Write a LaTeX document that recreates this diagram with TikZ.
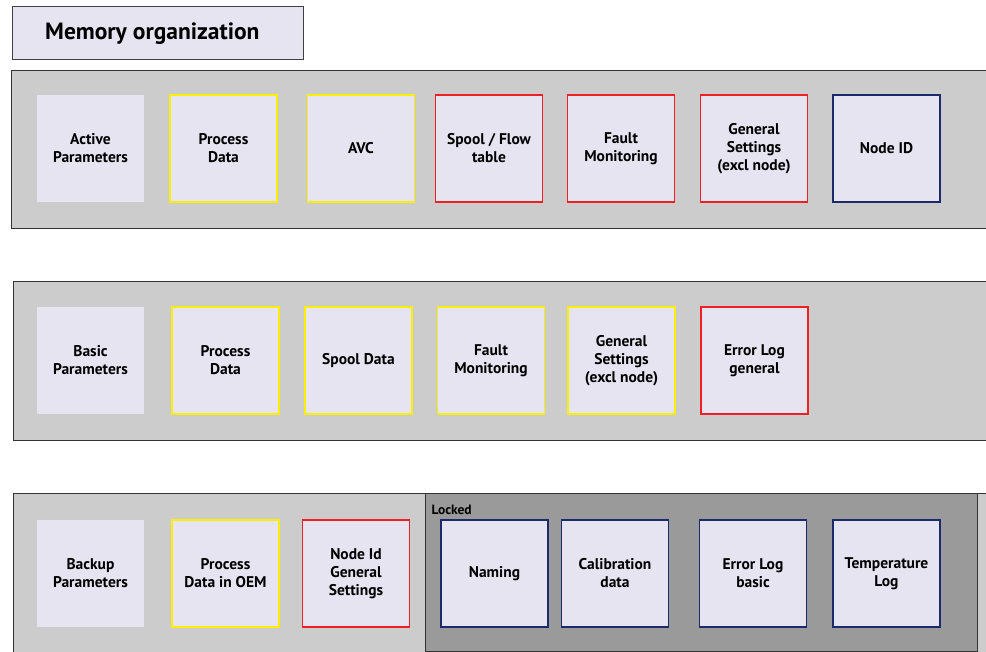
\documentclass[tikz,border=0pt]{standalone}
\usepackage{fontspec}
\setmainfont{PT Sans}
\usepackage{xcolor}
\usepackage{tikz}

\definecolor{boxfill}{HTML}{E6E4F0}
\definecolor{bandfill}{HTML}{CCCCCC}
\definecolor{lockfill}{HTML}{9A9A9A}
\definecolor{yellowline}{HTML}{FFEE00}
\definecolor{redline}{HTML}{EE2024}
\definecolor{navyline}{HTML}{1B2A6B}

\begin{document}
\begin{tikzpicture}[x=1pt,y=-1pt,
		memblock/.style={fill=boxfill, minimum width=107pt, minimum height=107pt,
			inner sep=0pt, align=center, font=\bfseries\fontsize{15.5}{18}\selectfont},
		yellowblock/.style={memblock, draw=yellowline, line width=1.9pt},
		redblock/.style={memblock, draw=redline, line width=1.9pt},
		navyblock/.style={memblock, draw=navyline, line width=1.9pt}]
					\useasboundingbox (0,0) rectangle (986,652);
					
					% title
					\draw[fill=boxfill, draw=black!75] (12,6) rectangle (303,59);
					\node[anchor=base west, inner sep=0pt, font=\bfseries\fontsize{23.5}{26}\selectfont] (title) at (45,40) {Memory organization};
					
					% bands
					\fill[bandfill] (11,70) rectangle (986,228);
					\draw[black!80] (986,70) -- (11,70) -- (11,228) -- (986,228);
					\fill[bandfill] (13,281) rectangle (986,440);
					\draw[black!80] (986,281) -- (13,281) -- (13,440) -- (986,440);
					\fill[bandfill] (13,493) rectangle (986,652);
					\draw[black!80] (986,493) -- (13,493) -- (13,652);
					\draw[black!80, fill=lockfill] (425,493) rectangle (977,651);
					\node[anchor=west, font=\bfseries\fontsize{13.5}{15}\selectfont] (locked) at (428,510) {Locked};
					
					% active parameters
					\node[memblock] (activepar) at (90.5,148.5) {Active\\Parameters};
					\node[yellowblock] (activeproc) at (223.5,148.5) {Process\\Data};
					\node[yellowblock] (activeavc) at (361,148.5) {AVC};
					\node[redblock] (activespool) at (489,148.5) {Spool / Flow\\table};
					\node[redblock] (activefault) at (621,148.5) {Fault\\Monitoring};
					\node[redblock] (activegen) at (754,148.5) {General\\Settings\\(excl node)};
					\node[navyblock] (activenode) at (886.5,148.5) {Node ID};
					
					% basic parameters
					\node[memblock] (basicpar) at (90.5,360.5) {Basic\\Parameters};
					\node[yellowblock] (basicproc) at (225.5,360.5) {Process\\Data};
					\node[yellowblock] (basicspool) at (358.5,360.5) {Spool Data};
					\node[yellowblock] (basicfault) at (491,360.5) {Fault\\Monitoring};
					\node[yellowblock] (basicgen) at (621.5,360.5) {General\\Settings\\(excl node)};
					\node[redblock] (basicerr) at (754.5,360.5) {Error Log\\general};
					
					% backup parameters
					\node[memblock] (backpar) at (90.5,573.5) {Backup\\Parameters};
					\node[yellowblock] (backproc) at (225.5,573.5) {Process\\Data in OEM};
					\node[redblock] (backnode) at (356,573.5) {Node Id\\General\\Settings};
					\node[navyblock] (backname) at (494.5,573.5) {Naming};
					\node[navyblock] (backcal) at (615,573.5) {Calibration\\data};
					\node[navyblock] (backerr) at (753,573.5) {Error Log\\basic};
					\node[navyblock] (backtemp) at (886.5,573.5) {Temperature\\Log};
				\end{tikzpicture}
\end{document}
